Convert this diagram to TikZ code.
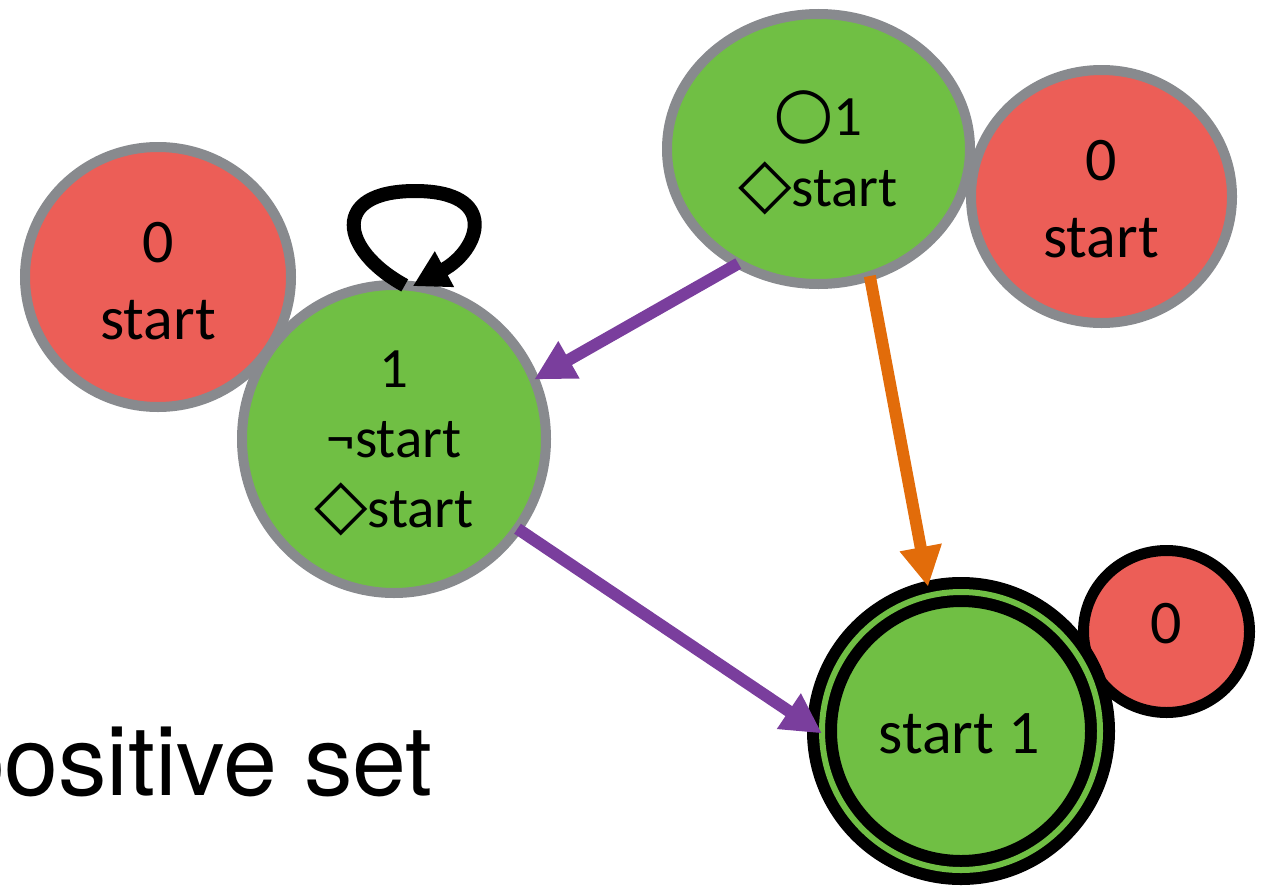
\documentclass[tikz,border=0pt]{standalone}
\usepackage{fontspec}
\setmainfont{Carlito}
\newfontfamily\symfont[Scale=1.22]{DejaVu Sans}
\newfontfamily\capfont{TeX Gyre Heros}
\usetikzlibrary{shapes.geometric,arrows.meta}

\definecolor{stategreen}{HTML}{70BF44}
\definecolor{statered}{HTML}{EC5E57}
\definecolor{rimgray}{HTML}{888A8E}
\definecolor{edgepurple}{HTML}{7A3E9D}
\definecolor{edgeorange}{HTML}{E26C0A}

% temporal operators
\newcommand{\evt}{{\symfont ◇}}
\newcommand{\nxt}{{\symfont ○}}
\newcommand{\stack}[1]{\begin{tabular}[t]{@{}c@{}}#1\end{tabular}}

\begin{document}
\begin{tikzpicture}[x=1pt,y=-1pt,
  state/.style={ellipse,inner sep=0pt,outer sep=0pt,line width=10pt,draw=rimgray},
  redstate/.style={state,fill=statered},
  greenstate/.style={state,fill=stategreen},
  bigtext/.style={inner sep=0pt,anchor=base,font=\fontsize{62pt}{77pt}\selectfont},
  smalltext/.style={inner sep=0pt,anchor=base,font=\fontsize{57pt}{70pt}\selectfont},
  edge/.style={line width=12pt,-{Triangle[length=40pt,width=40pt]}},
  purpleedge/.style={edge,draw=edgepurple,fill=edgepurple},
  orangeedge/.style={edge,draw=edgeorange,fill=edgeorange},
  selfloop/.style={line width=14pt,-{Triangle[length=36pt,width=38pt]}}]
\useasboundingbox (0,0) rectangle (1284,886);

% states
\node[redstate,minimum width=266pt,minimum height=260pt] (redleft) at (158,277) {};
\node[greenstate,minimum width=304pt,minimum height=308pt] (mid) at (394,439) {};
\node[greenstate,minimum width=303pt,minimum height=270pt] (top) at (818.5,149) {};
\node[redstate,minimum width=261pt,minimum height=253pt] (redright) at (1101.5,196.5) {};
\node[ellipse,inner sep=0pt,outer sep=0pt,line width=11pt,draw=black,fill=statered,
      minimum width=166pt,minimum height=162pt] (redsmall) at (1166.5,631.5) {};
\node[circle,inner sep=0pt,outer sep=0pt,minimum size=278pt,fill=stategreen,
      draw=black,line width=12pt,double=stategreen,double distance=6pt] (acc) at (961,731) {};

% labels
\node[bigtext] (redlefttext) at (158,262) {\stack{0\\start}};
\node[bigtext] (redrighttext) at (1101,180) {\stack{0\\start}};
\node[smalltext] (midtext) at (394,387) {\stack{1\\¬start\\\evt start}};
\node[smalltext,font=\fontsize{57pt}{71pt}\selectfont] (toptext) at (818,135) {\stack{\nxt 1\\\evt start}};
\node[bigtext] (acctext) at (959,753) {start 1};
\node[bigtext] (redsmalltext) at (1166,643) {0};
\node[inner sep=0pt,anchor=base east,font=\capfont\fontsize{97pt}{110pt}\selectfont] (caption) at (433,795) {positive set};

% transitions
\draw[purpleedge] (top.235) -- (mid.23.5);
\draw[purpleedge] (mid.-36) -- (acc.181);
\draw[orangeedge,shorten >=9pt] (top.-68) -- (acc.103);
\draw[selfloop] (mid.86) .. controls (340,250) and (330,191) .. (415,191)
                 .. controls (500,191) and (480,250) .. (mid.83);
\end{tikzpicture}
\end{document}
